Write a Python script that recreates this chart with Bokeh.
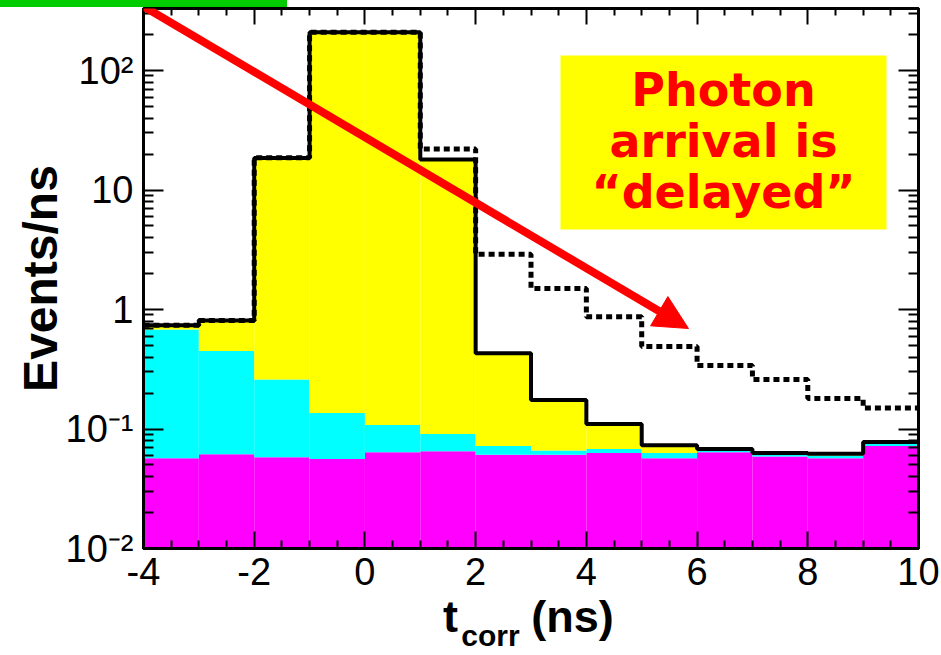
import math
import numpy as np
from bokeh.plotting import figure
from bokeh.layouts import column
from bokeh.models import (FixedTicker, LinearAxis, LogAxis, CustomJSTickFormatter,
                          Label, BoxAnnotation, Arrow, NormalHead, Div)
from bokeh.embed import file_html
from bokeh.resources import INLINE

# ---------------- data ----------------
bin_low = [-4, -3, -2, -1, 0, 1, 2, 3, 4, 5, 6, 7, 8, 9]
bin_high = [-3, -2, -1, 0, 1, 2, 3, 4, 5, 6, 7, 8, 9, 10]
magenta_bkg = [0.057, 0.0615, 0.058, 0.056, 0.064, 0.065, 0.061, 0.061, 0.063, 0.057, 0.064, 0.059, 0.057, 0.072]
cyan_bkg = [0.623, 0.389, 0.202, 0.080, 0.044, 0.026, 0.011, 0.005, 0.005, 0.006, 0.002, 0.002, 0.003, 0.003]
yellow_sig = [0.06, 0.36, 18.3, 209.0, 209.0, 17.9, 0.358, 0.109, 0.042, 0.010, 0.002, 0.002, 0.002, 0.003]
delayed_hyp = [0.74, 0.81, 18.6, 209.0, 209.0, 22.0, 2.9, 1.5, 0.87, 0.49, 0.34, 0.26, 0.18, 0.15]

x_ticks = [-4, -2, 0, 2, 4, 6, 8, 10]
x_minor_ticks = [-3.5, -3, -2.5, -1.5, -1, -0.5, 0.5, 1, 1.5, 2.5, 3, 3.5, 4.5, 5, 5.5,
                 6.5, 7, 7.5, 8.5, 9, 9.5]
y_ticks = [0.01, 0.1, 1, 10, 100]
y_tick_labels = ["10\u207b\u00b2", "10\u207b\u00b9", "1", "10", "10\u00b2"]
y_minor_ticks = [m * 10.0 ** e for e in (-2, -1, 0, 1, 2) for m in range(2, 10)]

# ---------------- geometry (page pixels of the reference) ----------------
W, H = 941, 655
BAR_H = 7                      # green strip above the plot
FL, FR, FT, FB = 143, 918, 8, 548
XMIN, XMAX = -4, 10
YMIN = 0.01
YMAX = 10 ** (2 + (70 - FT) / 119.5)


def xd(px):
    return XMIN + (px - FL) / (FR - FL) * (XMAX - XMIN)


def yd(py):
    lo, hi = math.log10(YMIN), math.log10(YMAX)
    return 10 ** (lo + (FB - py) / (FB - FT) * (hi - lo))


mag = np.array(magenta_bkg)
cyan_top = mag + np.array(cyan_bkg)
total = cyan_top + np.array(yellow_sig)

p = figure(width=W, height=H - BAR_H, y_axis_type="log",
           x_range=(XMIN, XMAX), y_range=(YMIN, YMAX),
           output_backend="svg", toolbar_location=None,
           min_border_left=FL, min_border_right=W - FR,
           min_border_top=FT - BAR_H, min_border_bottom=H - FB)
p.xgrid.visible = False
p.ygrid.visible = False
p.outline_line_color = "black"
p.outline_line_width = 3
p.background_fill_color = "white"
p.border_fill_color = "white"

# stacked histograms
p.quad(left=bin_low, right=bin_high, bottom=1e-4, top=mag,
       fill_color="#ff00ff", line_color=None)
p.quad(left=bin_low, right=bin_high, bottom=mag, top=cyan_top,
       fill_color="#00ffff", line_color=None)
p.quad(left=bin_low, right=bin_high, bottom=cyan_top, top=total,
       fill_color="#ffff00", line_color=None)

edges = bin_low + [bin_high[-1]]
p.step(x=edges, y=list(total) + [total[-1]], mode="after",
       line_color="black", line_width=4)
p.step(x=edges, y=delayed_hyp + [delayed_hyp[-1]], mode="after",
       line_color="black", line_width=5, line_dash="6 4")

# axes styling
tick_font = "Liberation Sans"
xa = p.xaxis[0]
xa.ticker = FixedTicker(ticks=x_ticks, minor_ticks=x_minor_ticks)
xa.formatter = CustomJSTickFormatter(code="return tick.toString();")
ya = p.yaxis[0]
ya.ticker = FixedTicker(ticks=y_ticks, minor_ticks=y_minor_ticks)
ya.formatter = CustomJSTickFormatter(args=dict(vals=y_ticks, labs=y_tick_labels), code="""
let best = 0, d = 1e9;
for (let i = 0; i < vals.length; i++) {
  const dd = Math.abs(Math.log10(tick) - Math.log10(vals[i]));
  if (dd < d) { d = dd; best = i; }
}
return labs[best];
""")
for ax, maj, mnr, sto in ((xa, 17, 8, 9), (ya, 20, 10, 10)):
    ax.axis_line_width = 3
    ax.major_tick_in = maj
    ax.major_tick_out = 0
    ax.minor_tick_in = mnr
    ax.minor_tick_out = 0
    ax.major_tick_line_width = 2
    ax.minor_tick_line_width = 2
    ax.major_label_text_font = tick_font
    ax.major_label_text_font_size = "38px"
    ax.major_label_text_color = "black"
    ax.major_label_standoff = sto

ya.axis_label = "Events/ns"
ya.axis_label_text_font = tick_font
ya.axis_label_text_font_style = "bold"
ya.axis_label_text_font_size = "48px"
ya.axis_label_text_color = "black"
ya.axis_label_standoff = -4

empty = CustomJSTickFormatter(code="return '';")
top_ax = LinearAxis(ticker=FixedTicker(ticks=x_ticks, minor_ticks=x_minor_ticks),
                    formatter=empty, major_tick_in=16, major_tick_out=0,
                    minor_tick_in=7, minor_tick_out=0, major_tick_line_width=2,
                    minor_tick_line_width=2, axis_line_width=3, major_label_standoff=0,
                    major_label_text_font_size="1px")
right_ax = LogAxis(ticker=FixedTicker(ticks=y_ticks, minor_ticks=y_minor_ticks),
                   formatter=empty, major_tick_in=20, major_tick_out=0,
                   minor_tick_in=10, minor_tick_out=0, major_tick_line_width=2,
                   minor_tick_line_width=2, axis_line_width=3, major_label_standoff=0,
                   major_label_text_font_size="1px")
p.add_layout(top_ax, "above")
p.add_layout(right_ax, "right")

# x axis title "t_corr (ns)" built from two label-only axes below the main one
label_fmt = """
let best = 0, d = 1e9;
for (let i = 0; i < pos.length; i++) {
  const dd = Math.abs(tick - pos[i]);
  if (dd < d) { d = dd; best = i; }
}
return labs[best];
"""
sub_pos = [xd(490)]
main_pos = [xd(450), xd(572)]
title_sub = LinearAxis(ticker=FixedTicker(ticks=sub_pos, minor_ticks=[]),
                       formatter=CustomJSTickFormatter(args=dict(pos=sub_pos, labs=["corr"]),
                                                       code=label_fmt),
                       axis_line_color=None, major_tick_line_color=None,
                       minor_tick_line_color=None, major_label_standoff=25,
                       major_label_text_font=tick_font, major_label_text_font_style="bold",
                       major_label_text_font_size="30px", major_label_text_color="black")
title_main = LinearAxis(ticker=FixedTicker(ticks=main_pos, minor_ticks=[]),
                        formatter=CustomJSTickFormatter(args=dict(pos=main_pos, labs=["t", "(ns)"]),
                                                        code=label_fmt),
                        axis_line_color=None, major_tick_line_color=None,
                        minor_tick_line_color=None, major_label_standoff=-70,
                        major_label_text_font=tick_font, major_label_text_font_style="bold",
                        major_label_text_font_size="45px", major_label_text_color="black")
p.add_layout(title_sub, "below")
p.add_layout(title_main, "below")

# annotation box
p.add_layout(BoxAnnotation(left=xd(560), right=xd(886), top=yd(55), bottom=yd(229),
                           fill_color="#ffff00", fill_alpha=1.0, line_color=None))
note_kw = dict(text_font="DejaVu Sans", text_font_style="bold", text_color="#ff0000",
               text_align="center", text_baseline="alphabetic", text_font_size="46px")
p.add_layout(Label(x=xd(723), y=yd(89), text="Photon", **note_kw))
p.add_layout(Label(x=xd(723), y=yd(140), text="arrival is", **note_kw))
p.add_layout(Label(x=xd(723), y=yd(191), text="\u201cdelayed\u201d", **note_kw))

# red arrow
p.add_layout(Arrow(end=NormalHead(size=34, fill_color="#ff0000", line_color="#ff0000"),
                   x_start=xd(133), y_start=yd(0), x_end=xd(688), y_end=yd(328),
                   line_color="#ff0000", line_width=8))

green_bar = Div(text="", width=287, height=BAR_H,
                styles={"background-color": "#00cc00", "margin": "0", "padding": "0"})
layout = column(green_bar, p, spacing=0)

open("out.html", "w").write(file_html(layout, INLINE))
